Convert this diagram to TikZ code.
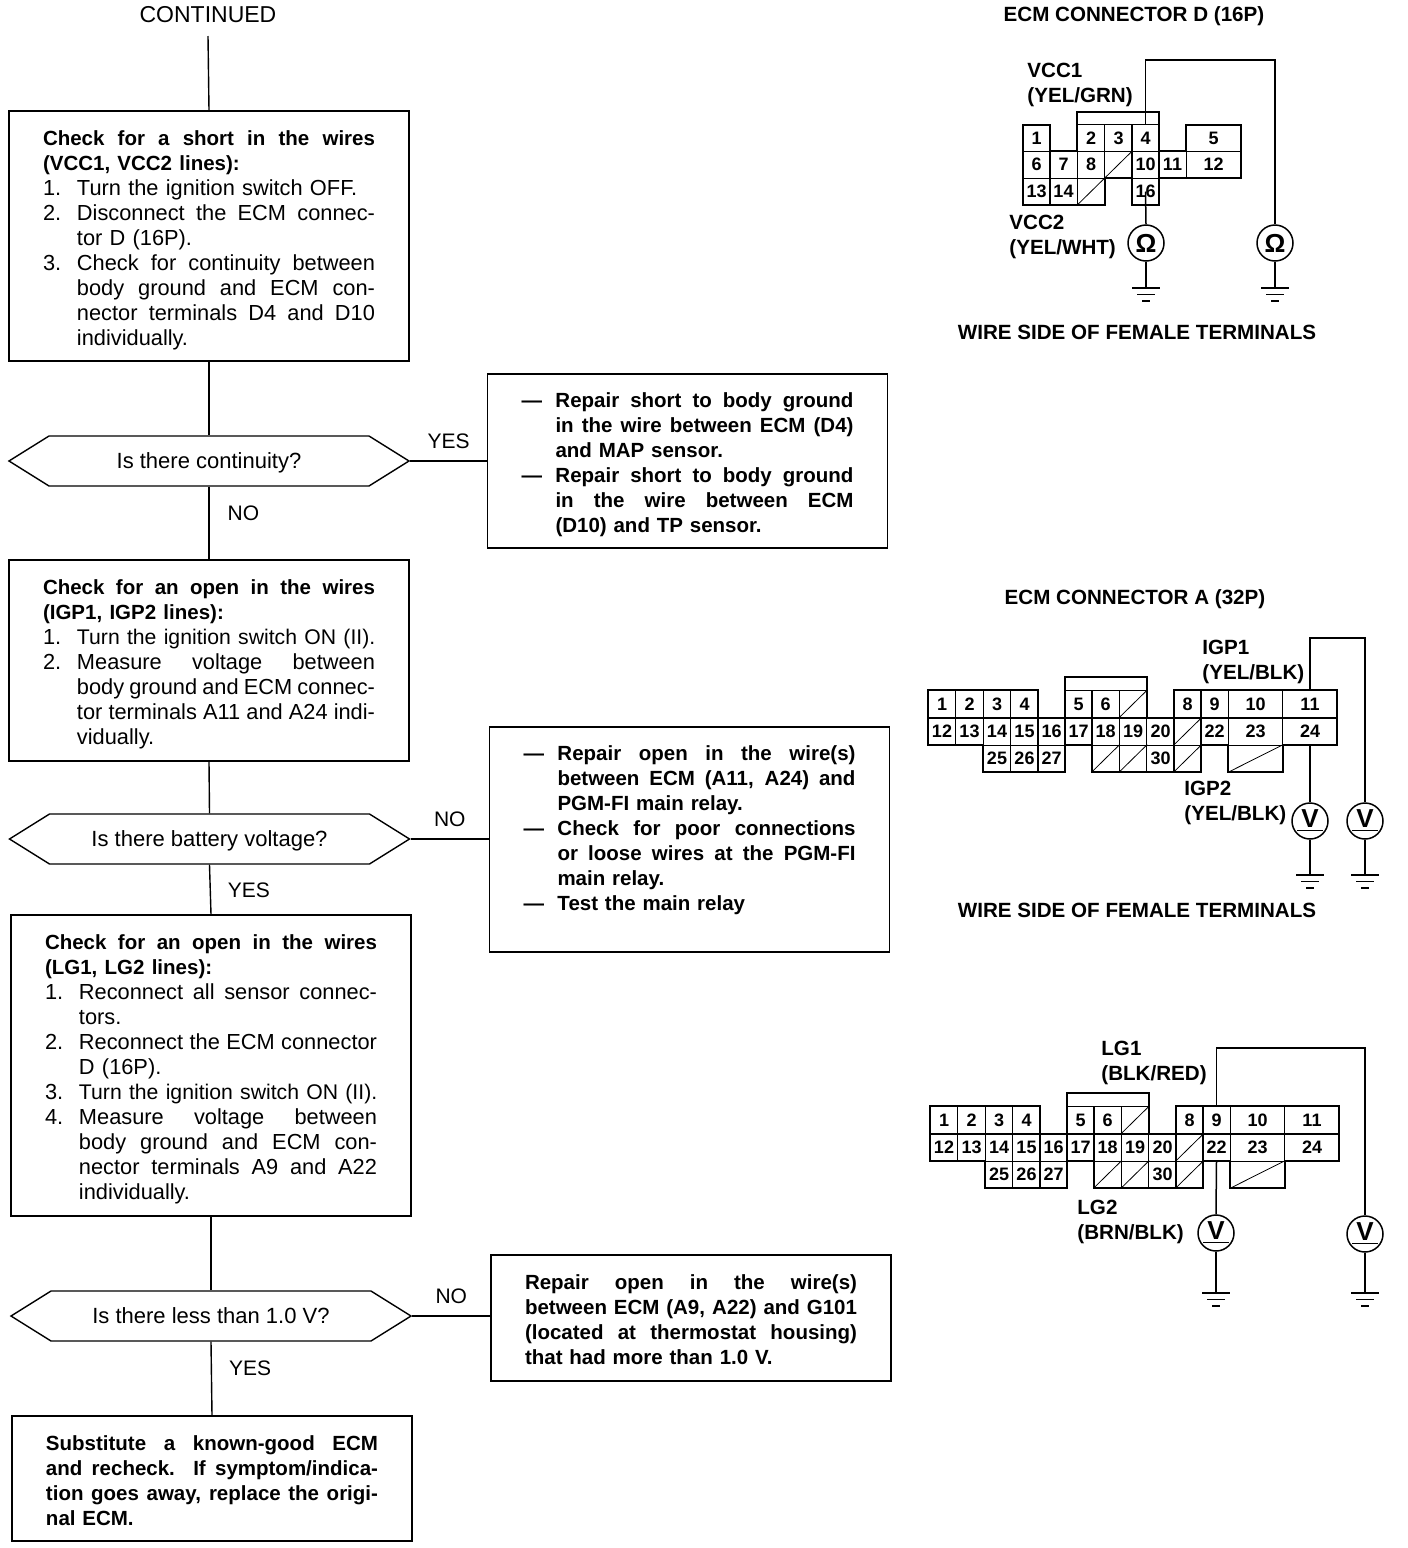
\documentclass[tikz,border=0pt]{standalone}
\usepackage{fontspec}
\setmainfont{Liberation Sans}
\usetikzlibrary{shapes.symbols}

% text lines of the boxes
\newcommand{\hd}[1]{{\fontsize{10.25}{12.5}\selectfont\bfseries #1}}
\newcommand{\jline}[1]{\makebox[166pt][s]{\spaceskip=0pt\xspaceskip=0pt #1}}
\newcommand{\jcont}[1]{\hspace*{17pt}\makebox[149pt][s]{\spaceskip=0pt\xspaceskip=0pt #1}}
\newcommand{\ncont}[1]{\hspace*{17pt}#1}
\newcommand{\jstep}[2]{\makebox[17pt][l]{#1}\makebox[149pt][s]{\spaceskip=0pt\xspaceskip=0pt #2}}
\newcommand{\nstep}[2]{\makebox[17pt][l]{#1}\mbox{#2}}
\newcommand{\tight}[1]{{\fontsize{10.6}{12.5}\selectfont #1}}

% cells of the 32P connector
\newcommand{\ecmcells}[1]{%
  \foreach \n/\x in {1/942,2/969.5,3/997,4/1024.5,5/1078.5,6/1105.5,8/1187.5,9/1214.5} {
    \node[cell] (#1\n) at (\x,704) {\n};
  }
  \foreach \n/\x in {12/942,13/969.5,14/997,15/1024.5,16/1051.5,17/1078.5,18/1105.5,19/1133,20/1160.5,22/1214.5} {
    \node[cell] (#1\n) at (\x,731.5) {\n};
  }
  \foreach \n/\x in {25/997,26/1024.5,27/1051.5,30/1160.5} {
    \node[cell] (#1\n) at (\x,758.5) {\n};
  }
  \foreach \n/\x/\y in {10/1255.5/704,11/1310/704,23/1255.5/731.5,24/1310/731.5} {
    \node[cell,minimum width=27.25pt] (#1\n) at (\x,\y) {\n};
  }
  \foreach \n/\x/\y in {x1/1133/704,x2/1187.5/731.5,x3/1105.5/758.5,x4/1133/758.5,x5/1187.5/758.5} {
    \node[cell] (#1\n) at (\x,\y) {};
    \draw[thinline] (#1\n.south west) -- (#1\n.north east);
  }
  \node[cell,minimum width=27.25pt] (#1x6) at (1255.5,758.5) {};
  \draw[thinline] (#1x6.south west) -- (#1x6.north east);
  \draw[outline] (928,690) -- (1038,690) -- (1038,718) -- (1065,718) -- (1065,677) -- (1147,677)
    -- (1147,718) -- (1174,718) -- (1174,690) -- (1337,690) -- (1337,745) -- (1283,745)
    -- (1283,772) -- (1228,772) -- (1228,745) -- (1201,745) -- (1201,772) -- (1092,772)
    -- (1092,745) -- (1065,745) -- (1065,772) -- (983,772) -- (983,745) -- (928,745) -- cycle;
}

\begin{document}
\begin{tikzpicture}[
    x=0.5pt, y=-0.5pt,
    every node/.style={inner sep=0pt},
    lift/.style={/utils/exec={\def\boxlift{#1}}},
    stepbox/.style={
        rectangle,
        draw,
        line width=0.7pt,
        minimum width=200pt,
        align=left,
        text width=166pt,
        lift=11.5pt,
        execute at begin node={\rule{0pt}{\boxlift}},
        font=\fontsize{10.9}{12.5}\selectfont
    },
    solidbox/.style={stepbox, font=\fontsize{10.25}{12.5}\selectfont\bfseries},
    decision/.style={
        signal,
        signal to=east and west,
        signal pointer angle=64,
        draw,
        line width=0.7pt,
        minimum width=200pt,
        minimum height=25pt,
        text height=10pt,
        text depth=3pt,
        font=\fontsize{11}{12.5}\selectfont
    },
    answer/.style={font=\fontsize{10.5}{12.5}\selectfont},
    flow/.style={line width=0.7pt},
    title/.style={font=\fontsize{10.3}{12.5}\selectfont\bfseries},
    wirename/.style={anchor=west, align=left, font=\fontsize{10.3}{12.5}\selectfont\bfseries},
    cell/.style={
        rectangle,
        draw,
        line width=0.4pt,
        minimum width=13.75pt,
        minimum height=13.5pt,
        font=\fontsize{9}{10}\selectfont\bfseries
    },
    thinline/.style={line width=0.4pt},
    outline/.style={line width=1.4pt, line join=miter},
    wire/.style={line width=0.75pt},
    meter/.style={
        circle,
        draw,
        fill=white,
        line width=0.75pt,
        minimum size=18pt,
        font=\fontsize{13}{13}\selectfont\bfseries
    }
]
\useasboundingbox (0,0) rectangle (1408,1548);

% ==================== Left: flow chart ====================
\node[font=\fontsize{11.5}{12.5}\selectfont] (cont) at (208,15) {CONTINUED};
\coordinate (start) at (208,36);

\node[stepbox, minimum height=125pt] (short) at (209,236) {%
  \jline{\hd{Check for a short in the wires}}\\
  \hd{(VCC1, VCC2 lines):}\\
  \nstep{1.}{Turn the ignition switch OFF.}\\
  \jstep{2.}{Disconnect the ECM connec-}\\
  \ncont{tor D (16P).}\\
  \jstep{3.}{Check for continuity between}\\
  \jcont{body ground and ECM con-}\\
  \jcont{nector terminals D4 and D10}\\
  \ncont{individually.}%
};
\node[decision] (cont1) at (209,461) {Is there continuity?};
\node[solidbox, minimum height=87pt] (fix1) at (687.5,461) {%
  \jstep{---}{Repair short to body ground}\\
  \jcont{in the wire between ECM (D4)}\\
  \ncont{and MAP sensor.}\\
  \jstep{---}{Repair short to body ground}\\
  \jcont{in the wire between ECM}\\
  \ncont{(D10) and TP sensor.}%
};

\node[stepbox, minimum height=100.5pt] (igp) at (209,660.5) {%
  \jline{\hd{Check for an open in the wires}}\\
  \hd{(IGP1, IGP2 lines):}\\
  \nstep{1.}{\tight{Turn the ignition switch ON (II).}}\\
  \jstep{2.}{Measure voltage between}\\
  \jcont{body ground and ECM connec-}\\
  \jcont{tor terminals A11 and A24 indi-}\\
  \ncont{vidually.}%
};
\node[decision] (batt) at (209.5,839) {Is there battery voltage?};
\node[solidbox, minimum height=112.5pt] (fix2) at (689.5,839.5) {%
  \jstep{---}{Repair open in the wire(s)}\\
  \jcont{between ECM (A11, A24) and}\\
  \ncont{PGM-FI main relay.}\\
  \jstep{---}{Check for poor connections}\\
  \jcont{or loose wires at the PGM-FI}\\
  \ncont{main relay.}\\
  \nstep{---}{Test the main relay}\\
  \rule[-3pt]{0pt}{3pt}%
};

\node[stepbox, minimum height=150.5pt] (lg) at (211,1065.5) {%
  \jline{\hd{Check for an open in the wires}}\\
  \hd{(LG1, LG2 lines):}\\
  \jstep{1.}{Reconnect all sensor connec-}\\
  \ncont{tors.}\\
  \jstep{2.}{Reconnect the ECM connector}\\
  \ncont{D (16P).}\\
  \nstep{3.}{\tight{Turn the ignition switch ON (II).}}\\
  \jstep{4.}{Measure voltage between}\\
  \jcont{body ground and ECM con-}\\
  \jcont{nector terminals A9 and A22}\\
  \ncont{individually.}%
};
\node[decision] (less) at (211,1316) {Is there less than 1.0 V?};
\node[solidbox, lift=9.5pt, minimum height=63pt] (fix3) at (691,1318) {%
  \jline{Repair open in the wire(s)}\\
  \jline{between ECM (A9, A22) and G101}\\
  \jline{(located at thermostat housing)}\\
  that had more than 1.0 V.%
};
\node[solidbox, lift=9.5pt, minimum height=62.5pt] (swap) at (212,1478.5) {%
  \jline{Substitute a known-good ECM}\\
  \jline{and recheck. If symptom/indica-}\\
  \jline{tion goes away, replace the origi-}\\
  nal ECM.%
};

\draw[flow] (start) -- (short.north);
\draw[flow] (short.south) -- (cont1.north);
\draw[flow] (cont1.east) -- node[answer, above=6pt] {YES} (cont1.east -| fix1.west);
\draw[flow] (cont1.south) -- node[answer, right=9pt, pos=0.36] {NO} (igp.north);
\draw[flow] (igp.south) -- (batt.north);
\draw[flow] (batt.east) -- node[answer, above=6pt] {NO} (batt.east -| fix2.west);
\draw[flow] (batt.south) -- node[answer, right=8.5pt, pos=0.52] {YES} (lg.north);
\draw[flow] (lg.south) -- (less.north);
\draw[flow] (less.east) -- node[answer, above=6pt] {NO} (less.east -| fix3.west);
\draw[flow] (less.south) -- node[answer, right=8.5pt, pos=0.36] {YES} (swap.north);

% ==================== Right: ECM connector D (16P) ====================
\node[title] (titled) at (1134,16) {ECM CONNECTOR D (16P)};
\foreach \n/\x in {1/1036.5,2/1091,3/1118.5,4/1145.5} {
  \node[cell] (d\n) at (\x,138) {\n};
}
\foreach \n/\x in {6/1036.5,7/1063.5,8/1091,10/1145.5,11/1172.5} {
  \node[cell] (d\n) at (\x,164.5) {\n};
}
\foreach \n/\x in {13/1036.5,14/1063.5,16/1145.5} {
  \node[cell] (d\n) at (\x,191.5) {\n};
}
\node[cell,minimum width=27.5pt] (d5) at (1213.5,138) {5};
\node[cell,minimum width=27.5pt] (d12) at (1213.5,164.5) {12};
\node[cell] (dx1) at (1118.5,164.5) {};
\node[cell] (dx2) at (1091,191.5) {};
\draw[thinline] (dx1.south west) -- (dx1.north east);
\draw[thinline] (dx2.south west) -- (dx2.north east);
\draw[outline] (1023,125) -- (1050,125) -- (1050,151) -- (1077,151) -- (1077,112) -- (1159,112)
  -- (1159,151) -- (1186,151) -- (1186,125) -- (1241,125) -- (1241,178) -- (1159,178)
  -- (1159,205) -- (1132,205) -- (1132,178) -- (1105,178) -- (1105,205) -- (1023,205) -- cycle;

\node[wirename] (vcc1) at (1027,84.5) {VCC1\\(YEL/GRN)};
\node[wirename] (vcc2) at (1009,236.5) {VCC2\\(YEL/WHT)};
\node[meter] (ohm1) at (1146,243) {Ω};
\node[meter] (ohm2) at (1275,243) {Ω};
\coordinate (wired) at (1275,60);
\coordinate (gd1) at (1146,288);
\coordinate (gd2) at (1275,288);
\draw[wire] (d4.north) |- (wired) -- (ohm2.north);
\draw[wire] (d16.center) -- (ohm1.north);
\draw[wire] (ohm1.south) -- (gd1);
\draw[wire] (ohm2.south) -- (gd2);
\node[title] (sided) at (1137,332) {WIRE SIDE OF FEMALE TERMINALS};

% ==================== Right: ECM connector A (32P) ====================
\node[title] (titlea) at (1135,599) {ECM CONNECTOR A (32P)};
\ecmcells{a}
\node[wirename] (igp1) at (1202,661.5) {IGP1\\(YEL/BLK)};
\node[wirename] (igp2) at (1184,802.5) {IGP2\\(YEL/BLK)};
\node[meter] (volt1) at (1310,821) {\underline{\,V\,}};
\node[meter] (volt2) at (1365,821) {\underline{\,V\,}};
\coordinate (wirea) at (1365,638);
\coordinate (ga1) at (1310,875);
\coordinate (ga2) at (1365,875);
\draw[wire] (a11.north) |- (wirea) -- (volt2.north);
\draw[wire] (a24.south) -- (volt1.north);
\draw[wire] (volt1.south) -- (ga1);
\draw[wire] (volt2.south) -- (ga2);
\node[title] (sidea) at (1137,910) {WIRE SIDE OF FEMALE TERMINALS};

% ==================== Right: LG lines, same connector ====================
\begin{scope}[shift={(2,416)}]
  \ecmcells{l}
\end{scope}
\node[wirename] (lg1) at (1101,1062.5) {LG1\\(BLK/RED)};
\node[wirename] (lg2) at (1077,1221.5) {LG2\\(BRN/BLK)};
\node[meter] (volt3) at (1216,1233) {\underline{\,V\,}};
\node[meter] (volt4) at (1365,1234) {\underline{\,V\,}};
\coordinate (wirel) at (1365,1048);
\coordinate (gl1) at (1216,1293);
\coordinate (gl2) at (1365,1293);
\draw[wire] (l9.north) |- (wirel) -- (volt4.north);
\draw[wire] (l22.south) -- (volt3.north);
\draw[wire] (volt3.south) -- (gl1);
\draw[wire] (volt4.south) -- (gl2);

% Grounds
\foreach \g in {gd1,gd2,ga1,ga2,gl1,gl2} {
  \draw[wire] (\g) ++(-14,0) -- ++(28,0);
  \draw[wire] (\g) ++(-9,6.5) -- ++(18,0);
  \draw[wire] (\g) ++(-4,13) -- ++(8,0);
}

\end{tikzpicture}
\end{document}
